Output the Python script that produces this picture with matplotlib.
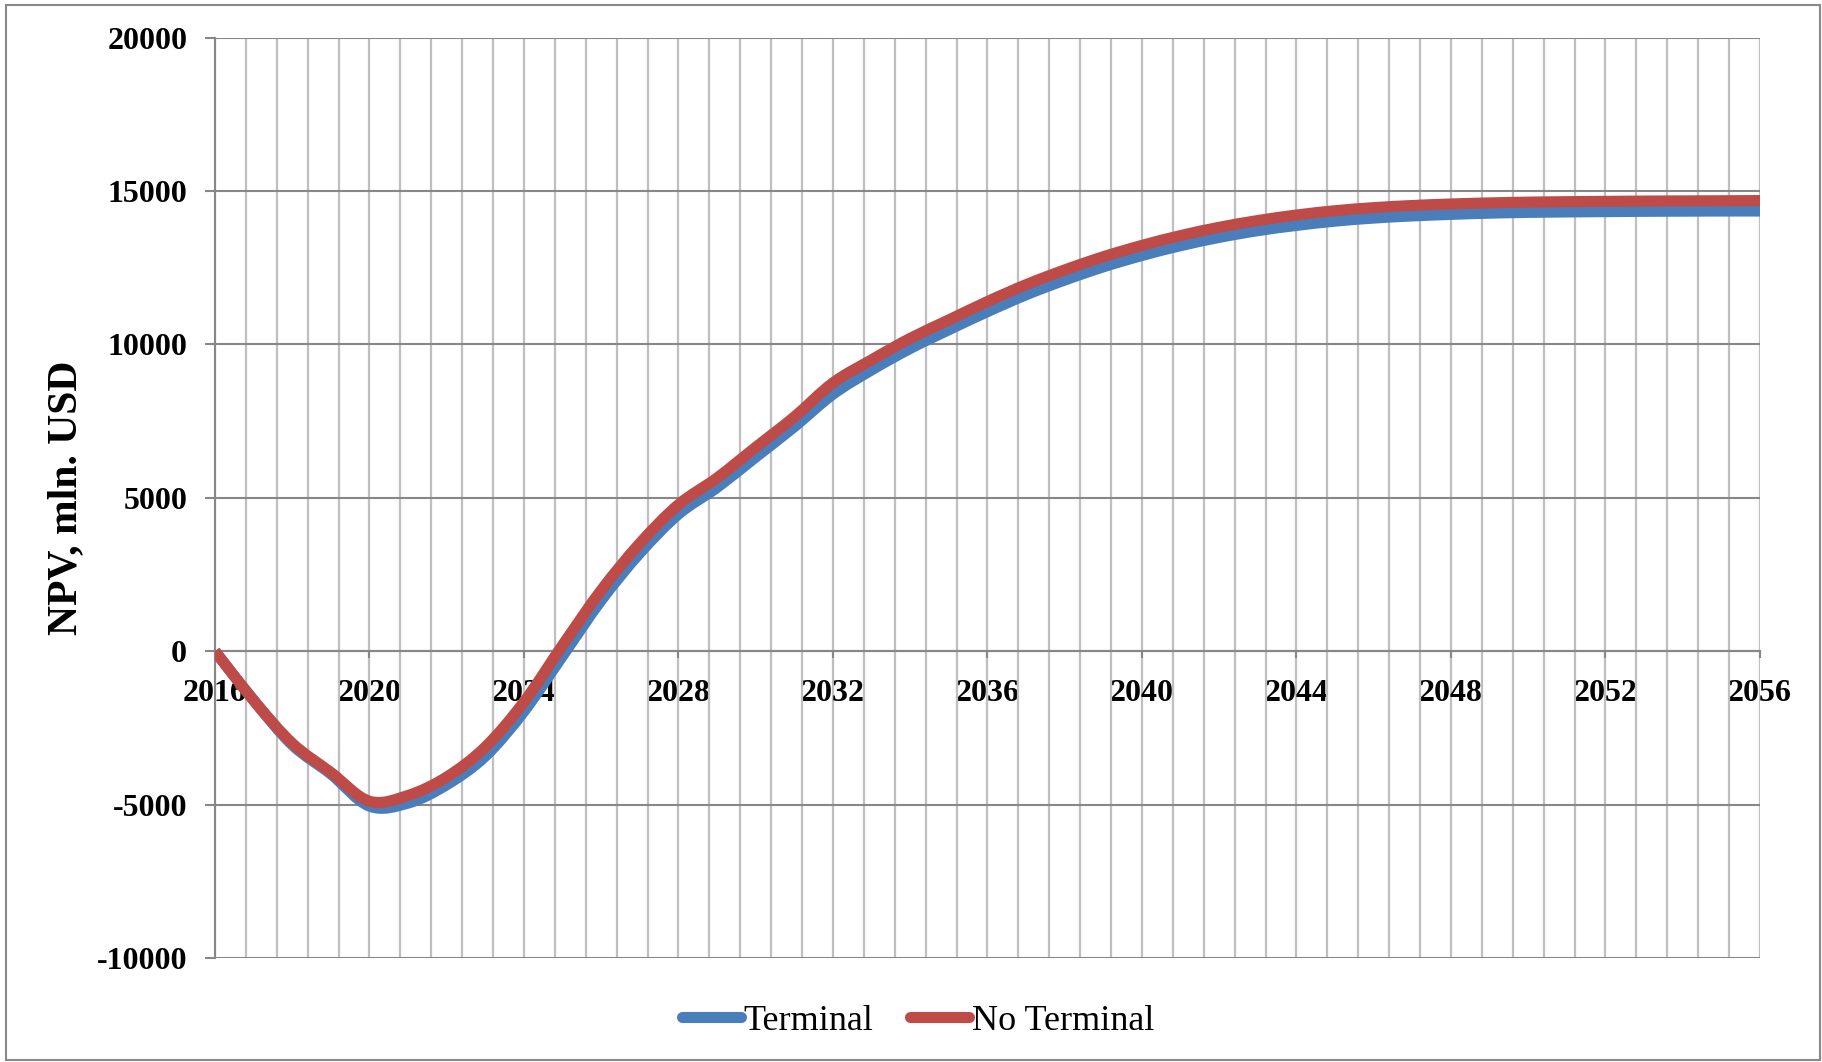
import numpy as np
import matplotlib
matplotlib.use("Agg")
import matplotlib.pyplot as plt
from matplotlib.path import Path
from matplotlib.patches import PathPatch, Rectangle
from matplotlib.lines import Line2D
from matplotlib.ticker import FixedLocator

# Annual NPV, mln. USD
years = list(range(2016, 2057))
terminal = [0, -1600, -3050, -4000, -5050, -4950, -4350, -3420, -1960, -150,
            1660, 3200, 4470, 5340, 6330, 7320, 8380, 9170, 9870, 10480,
            11070, 11620, 12100, 12530, 12900, 13220, 13490, 13710, 13880, 14020,
            14120, 14190, 14240, 14280, 14305, 14320, 14330, 14340, 14345, 14350,
            14350]
no_terminal = [0, -1600, -3000, -3950, -4890, -4700, -4100, -3120, -1650, 200,
               1990, 3520, 4780, 5650, 6650, 7640, 8750, 9500, 10200, 10800,
               11400, 11950, 12430, 12860, 13230, 13550, 13820, 14040, 14220, 14360,
               14460, 14530, 14580, 14615, 14640, 14655, 14665, 14675, 14680, 14685,
               14690]
series_names = ["Terminal", "No Terminal"]
series_colors = ["#4A7EBB", "#BE4B48"]

y_ticks = list(range(-10000, 20001, 5000))
x_ticks = list(range(2016, 2057, 4))

SERIF = ["Liberation Serif", "DejaVu Serif"]


def smooth_path(x, y):
    """Cubic Bezier path through the points (spreadsheet-style smoothed line)."""
    pts = np.column_stack([np.asarray(x, float), np.asarray(y, float)])
    n = len(pts)
    verts = [pts[0]]
    codes = [Path.MOVETO]
    for i in range(n - 1):
        p0 = pts[i - 1] if i > 0 else pts[i]
        p1 = pts[i]
        p2 = pts[i + 1]
        p3 = pts[i + 2] if i + 2 < n else pts[i + 1]
        c1 = p1 + (p2 - p0) / 6.0
        c2 = p2 - (p3 - p1) / 6.0
        verts += [c1, c2, p2]
        codes += [Path.CURVE4] * 3
    return Path(verts, codes)


W, H = 1822, 1062
fig = plt.figure(figsize=(W / 100, H / 100), dpi=100)
fig.patch.set_facecolor("white")

left, right, top, bottom = 215, 1760, 37.7, 958
ax = fig.add_axes([left / W, 1 - bottom / H, (right - left) / W, (bottom - top) / H])
ax.set_xlim(2016, 2056)
ax.set_ylim(-10000, 20000)
ax.set_axisbelow(True)

# gridlines: light vertical every 0.8 year, darker horizontal every 5000
ax.xaxis.set_major_locator(FixedLocator(x_ticks))
ax.xaxis.set_minor_locator(FixedLocator(np.linspace(2016, 2056, 51)))
ax.yaxis.set_major_locator(FixedLocator(y_ticks))
ax.grid(which="minor", axis="x", color="#BFBFBF", lw=1.6)
ax.grid(which="major", axis="x", color="#BFBFBF", lw=1.6)
ax.grid(which="major", axis="y", color="#878787", lw=1.5)

for s in ("top", "right"):
    ax.spines[s].set_visible(False)
ax.spines["left"].set_color("#878787")
ax.spines["left"].set_linewidth(1.5)
ax.spines["bottom"].set_position(("data", 0))
ax.spines["bottom"].set_color("#878787")
ax.spines["bottom"].set_linewidth(1.5)

ax.tick_params(axis="y", which="major", direction="out", length=7, width=1.5,
               color="#878787", pad=13)
ax.tick_params(axis="x", which="major", direction="out", length=5, width=1.5,
               color="#878787", pad=15)
ax.tick_params(axis="x", which="minor", length=0)

ax.set_yticklabels([str(v) for v in y_ticks])
ax.set_xticklabels([str(v) for v in x_ticks])
for lab in ax.get_xticklabels() + ax.get_yticklabels():
    lab.set_fontfamily(SERIF)
    lab.set_fontweight("bold")
    lab.set_fontsize(23)

# series lines
for vals, color, z in zip([terminal, no_terminal], series_colors, [3, 4]):
    patch = PathPatch(smooth_path(years, vals), fill=False, edgecolor=color,
                      lw=8, capstyle="butt", joinstyle="round", zorder=z)
    ax.add_patch(patch)

fig.text(66 / W, 1 - 498 / H, "NPV, mln. USD", rotation=90, ha="center",
         va="center", fontsize=30, fontweight="bold", family=SERIF)

handles = [Line2D([0], [0], color=c, lw=8, solid_capstyle="round")
           for c in series_colors]
fig.legend(handles, series_names, loc="center",
           bbox_to_anchor=(918 / W, 1 - 1021 / H), ncol=2, frameon=False,
           prop={"family": SERIF, "size": 26}, handlelength=1.64,
           handletextpad=0.08, columnspacing=1.0)

fig.add_artist(Rectangle((6 / W, 2 / H), (1820 - 6) / W, (1057 - 2) / H,
                         transform=fig.transFigure, fill=False,
                         edgecolor="#898989", lw=1.5))

fig.savefig("out.png", dpi=100, facecolor="white")
